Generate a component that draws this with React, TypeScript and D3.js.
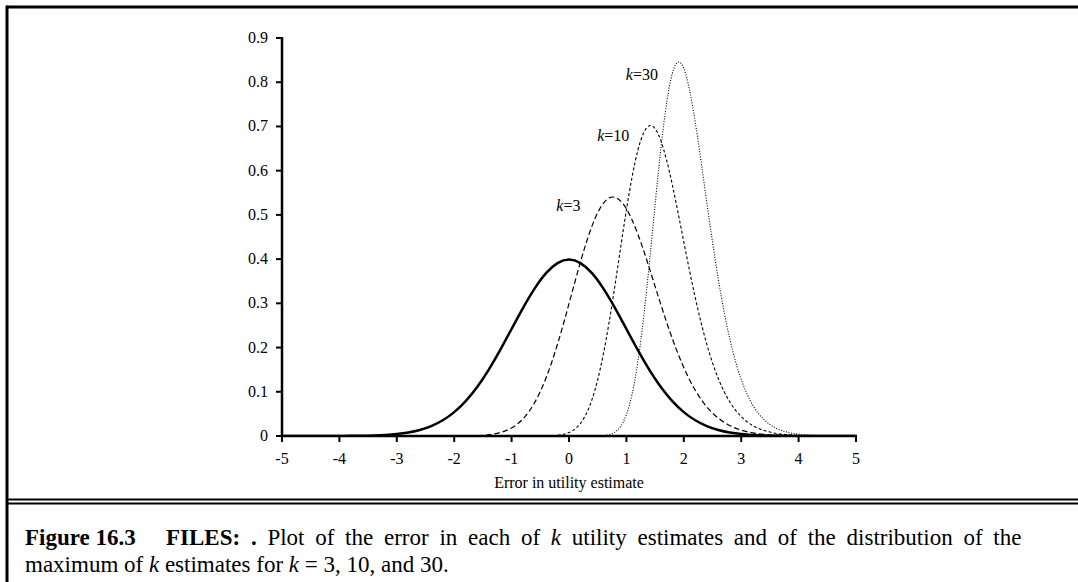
import React from "react";
import * as d3 from "d3";

const xs = [
  -5.0, -4.8, -4.6, -4.4, -4.2, -4.0, -3.8, -3.6, -3.4, -3.2,
  -3.0, -2.8, -2.6, -2.4, -2.2, -2.0, -1.8, -1.6, -1.4, -1.2,
  -1.0, -0.8, -0.6, -0.4, -0.2, 0.0, 0.2, 0.4, 0.6, 0.8,
  1.0, 1.2, 1.4, 1.6, 1.8, 2.0, 2.2, 2.4, 2.6, 2.8,
  3.0, 3.2, 3.4, 3.6, 3.8, 4.0, 4.2, 4.4, 4.6, 4.8, 5.0,
];

const normalErr = [
  0, 0, 0, 0, 0.0001, 0.0001, 0.0003, 0.0006, 0.0012, 0.0024,
  0.0044, 0.0079, 0.0136, 0.0224, 0.0355, 0.054, 0.079, 0.1109, 0.1497, 0.1942,
  0.242, 0.2897, 0.3332, 0.3683, 0.391, 0.3989, 0.391, 0.3683, 0.3332, 0.2897,
  0.242, 0.1942, 0.1497, 0.1109, 0.079, 0.054, 0.0355, 0.0224, 0.0136, 0.0079,
  0.0044, 0.0024, 0.0012, 0.0006, 0.0003, 0.0001, 0.0001, 0, 0, 0, 0,
];

const maxK3 = [
  0, 0, 0, 0, 0, 0, 0, 0, 0, 0,
  0, 0, 0, 0, 0, 0.0001, 0.0003, 0.001, 0.0029, 0.0077,
  0.0183, 0.039, 0.0752, 0.1312, 0.2077, 0.2992, 0.3936, 0.4746, 0.5265, 0.5398,
  0.5138, 0.4562, 0.3796, 0.2973, 0.2201, 0.1547, 0.1035, 0.0661, 0.0404, 0.0236,
  0.0133, 0.0071, 0.0037, 0.0018, 0.0009, 0.0004, 0.0002, 0.0001, 0, 0, 0,
];

const maxK10 = [
  0, 0, 0, 0, 0, 0, 0, 0, 0, 0,
  0, 0, 0, 0, 0, 0, 0, 0, 0, 0,
  0, 0, 0, 0.0003, 0.0016, 0.0078, 0.0287, 0.0822, 0.1861, 0.3399,
  0.5111, 0.6463, 0.7017, 0.6679, 0.568, 0.4389, 0.3127, 0.2079, 0.1302, 0.0774,
  0.0438, 0.0237, 0.0123, 0.0061, 0.0029, 0.0013, 0.0006, 0.0003, 0.0001, 0, 0,
];

const maxK30 = [
  0, 0, 0, 0, 0, 0, 0, 0, 0, 0,
  0, 0, 0, 0, 0, 0, 0, 0, 0, 0,
  0, 0, 0, 0, 0, 0, 0, 0, 0.0009, 0.0087,
  0.0484, 0.1681, 0.3907, 0.6491, 0.8197, 0.831, 0.7091, 0.529, 0.3558, 0.2205,
  0.1279, 0.0701, 0.0366, 0.0183, 0.0087, 0.004, 0.0018, 0.0008, 0.0003, 0.0001, 0,
];

const xTicks = [-5, -4, -3, -2, -1, 0, 1, 2, 3, 4, 5];
const yTicks = [0, 0.1, 0.2, 0.3, 0.4, 0.5, 0.6, 0.7, 0.8, 0.9];
const yTickLabels = ["0", "0.1", "0.2", "0.3", "0.4", "0.5", "0.6", "0.7", "0.8", "0.9"];

const curveLabels = [
  { k: "3", x: 0.2, y: 0.509 },
  { k: "10", x: 1.05, y: 0.667 },
  { k: "30", x: 1.55, y: 0.805 },
];

const W = 1078;
const H = 582;
const FONT = "'Liberation Serif', 'Times New Roman', serif";
const TICK_FS = 16;

export default function App() {
  const x = d3.scaleLinear().domain([-5, 5]).range([282, 856]);
  const y = d3.scaleLinear().domain([0, 0.9]).range([436, 38]);

  const line = d3
    .line<number>()
    .x((_, i) => x(xs[i]))
    .y((d) => y(d))
    .curve(d3.curveNatural);

  const series = [
    { data: normalErr, dash: undefined, width: 2.5 },
    { data: maxK3, dash: "5.5,3", width: 1.2 },
    { data: maxK10, dash: "3,2.2", width: 1.1 },
    { data: maxK30, dash: "1,1.6", width: 1.1 },
  ];

  return (
    <svg
      width={W}
      height={H}
      style={{ position: "absolute", left: 0, top: 0, background: "#fff" }}
      fontFamily={FONT}
    >
      <rect x={0} y={0} width={W} height={H} fill="#fff" />
      <defs>
        <clipPath id="plotClip">
          <rect x={282} y={20} width={580} height={416} />
        </clipPath>
      </defs>
      {/* frame */}
      <line x1={7} x2={W} y1={7} y2={7} stroke="#000" strokeWidth={3} />
      <line x1={7} x2={7} y1={5.5} y2={H} stroke="#000" strokeWidth={3} />
      <line x1={7} x2={W} y1={499.5} y2={499.5} stroke="#000" strokeWidth={2} />
      <line x1={7} x2={W} y1={503.5} y2={503.5} stroke="#000" strokeWidth={2} />

      {/* curves */}
      <g clipPath="url(#plotClip)">
        {series.map((s, i) => (
          <path
            key={i}
            d={line(s.data) || ""}
            fill="none"
            stroke="#000"
            strokeWidth={s.width}
            strokeDasharray={s.dash}
          />
        ))}
      </g>

      {/* axes */}
      <line x1={x(-5)} x2={x(5) + 1} y1={y(0)} y2={y(0)} stroke="#000" strokeWidth={2.5} />
      <line x1={x(-5)} x2={x(-5)} y1={y(0.9) - 1} y2={y(0) + 1} stroke="#000" strokeWidth={2.5} />
      {xTicks.map((t) => (
        <g key={"xt" + t}>
          <line x1={x(t)} x2={x(t)} y1={y(0)} y2={y(0) + 6} stroke="#000" strokeWidth={2} />
          <text x={x(t)} y={y(0) + 28} textAnchor="middle" fontSize={TICK_FS}>
            {t}
          </text>
        </g>
      ))}
      {yTicks.map((t, i) => (
        <g key={"yt" + t}>
          <line x1={x(-5) - 6} x2={x(-5)} y1={y(t)} y2={y(t)} stroke="#000" strokeWidth={2} />
          <text x={x(-5) - 14} y={y(t) + 5} textAnchor="end" fontSize={TICK_FS}>
            {yTickLabels[i]}
          </text>
        </g>
      ))}
      <text x={x(0)} y={488} textAnchor="middle" fontSize={16}>
        Error in utility estimate
      </text>

      {/* curve labels */}
      {curveLabels.map((l) => (
        <text key={l.k} x={x(l.x)} y={y(l.y)} textAnchor="end" fontSize={16}>
          <tspan fontStyle="italic">k</tspan>=
          {l.k}
        </text>
      ))}

      {/* caption */}
      <text x={25} y={545} fontSize={23} wordSpacing={5}>
        <tspan fontWeight="bold" wordSpacing={0}>Figure 16.3</tspan>
        <tspan x={166} fontWeight="bold">FILES: .</tspan>
        <tspan> Plot of the error in each of </tspan>
        <tspan fontStyle="italic">k</tspan>
        <tspan> utility estimates and of the distribution of the</tspan>
      </text>
      <text x={25} y={572} fontSize={23}>
        <tspan>maximum of </tspan>
        <tspan fontStyle="italic">k</tspan>
        <tspan> estimates for </tspan>
        <tspan fontStyle="italic">k</tspan>
        <tspan> = 3, 10, and 30.</tspan>
      </text>
    </svg>
  );
}
